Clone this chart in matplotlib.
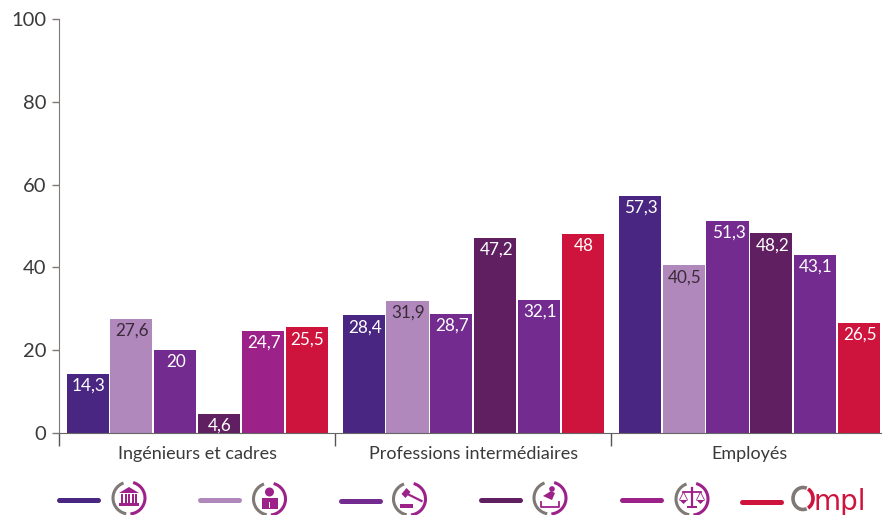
import matplotlib
matplotlib.use("Agg")
import matplotlib.pyplot as plt
from matplotlib.patches import Arc, Circle, Polygon, Rectangle
import numpy as np

plt.rcParams['font.family'] = ['Lato', 'DejaVu Sans']

groups = ["Ingénieurs et cadres", "Professions intermédiaires", "Employés"]
yticks = [0, 20, 40, 60, 80, 100]

# one list per legend entry (icon), in the order of the bars
batiment = [14.3, 28.4, 57.3]
lecteur = [27.6, 31.9, 40.5]
marteau = [20, 28.7, 51.3]
tampon = [4.6, 47.2, 48.2]
balance = [24.7, 32.1, 43.1]
ompl = [25.5, 48, 26.5]
series = [batiment, lecteur, marteau, tampon, balance, ompl]

# series 5 is not the same purple in the first group as in the other two
colors = [
    ["#4A2683"] * 3,
    ["#B088BB"] * 3,
    ["#732B8F"] * 3,
    ["#5F1F61"] * 3,
    ["#9C2188", "#732B8F", "#732B8F"],
    ["#CE133C"] * 3,
]
legend_colors = ["#4A2683", "#B088BB", "#732B8F", "#5F1F61", "#9C2188", "#CE133C"]
text_colors = ["white", "#3a2a3a", "white", "white", "white", "white"]

W, H = 882, 515
GRAY = "#7F7874"
MAG = "#9C2188"

fig = plt.figure(figsize=(W / 100, H / 100), dpi=100)
ax = fig.add_axes([59 / W, 1 - 433 / H, (W - 59) / W, 414 / H])

step = 43.8 / 276
width = 42 / 276
x = np.arange(len(groups))
for i, vals in enumerate(series):
    pos = x + (i - 2.5) * step
    ax.bar(pos, vals, width, color=colors[i], zorder=2)
    for p, v in zip(pos, vals):
        label = str(v).replace(".", ",")
        ax.annotate(label, (p, v), xytext=(0.7, -8.5), textcoords="offset points",
                    ha="center", va="center", color=text_colors[i], fontsize=12.3, zorder=3)

ax.set_xlim(-0.5, (W - 197.5) / 276)
ax.set_ylim(0, 100)
ax.set_yticks(yticks)
ax.set_xticks([-0.5, 0.5, 1.5])
ax.set_xticklabels([])
ax.tick_params(axis="y", length=5, width=1, color=GRAY, labelsize=14.5, labelcolor="#3a3a3a", pad=4)
ax.tick_params(axis="x", length=9.5, width=1, color="#555555")
for g, name in zip(x, groups):
    ax.annotate(name, (g, 0), xytext=(0, -15), textcoords="offset points",
                ha="center", va="center", fontsize=13, color="#3a3a3a", annotation_clip=False)
ax.spines["top"].set_visible(False)
ax.spines["right"].set_visible(False)
ax.spines["left"].set_color(GRAY)
ax.spines["bottom"].set_color("#666666")
ax.patch.set_alpha(0)

# legend strip, in pixels of the figure
leg = fig.add_axes([0, 0, 1, 1], zorder=5)
leg.set_xlim(0, W)
leg.set_ylim(H, 0)
leg.axis("off")
leg.patch.set_alpha(0)


def ring(cx, cy, r=16, lw=2.2):
    leg.add_patch(Arc((cx, cy), 2 * r, 2 * r, theta1=100, theta2=250, color=GRAY, lw=lw))
    leg.add_patch(Arc((cx, cy), 2 * r, 2 * r, theta1=-75, theta2=85, color=MAG, lw=lw))


def icon_bank(cx, cy):
    leg.add_patch(Polygon([(cx - 10, cy - 5), (cx, cy - 11), (cx + 10, cy - 5)], color=MAG, lw=0))
    for dx in [-7, -3.5, 0, 3.5, 7]:
        leg.add_patch(Rectangle((cx + dx - 1, cy - 4), 2, 9, color=MAG, lw=0))
    leg.add_patch(Rectangle((cx - 10, cy + 5), 20, 2.5, color=MAG, lw=0))


def icon_reader(cx, cy):
    leg.add_patch(Circle((cx, cy - 7), 4.5, color=MAG, lw=0))
    leg.add_patch(Rectangle((cx - 8, cy - 1), 16, 11, color=MAG, lw=0))
    leg.add_patch(Rectangle((cx - 0.7, cy + 3), 1.4, 6, color="white", lw=0))


def icon_gavel(cx, cy):
    leg.add_patch(Polygon([(cx - 8, cy - 5), (cx - 3, cy - 11), (cx + 1, cy - 7), (cx - 4, cy - 1)], color=MAG, lw=0))
    leg.plot([cx - 2, cx + 12], [cy - 5, cy + 2], color=MAG, lw=1.6)
    leg.add_patch(Rectangle((cx - 10, cy + 5), 13, 3.5, color=MAG, lw=0))


def icon_stamp(cx, cy):
    leg.add_patch(Circle((cx + 2, cy - 9), 2.8, color=MAG, lw=0))
    leg.add_patch(Polygon([(cx + 1, cy - 7), (cx + 5, cy - 5), (cx + 2, cy + 2), (cx - 7, cy - 2)], color=MAG, lw=0))
    leg.plot([cx - 9, cx - 9, cx + 9, cx + 9], [cy + 4, cy + 9, cy + 9, cy + 4], color=MAG, lw=1.3)


def icon_scale(cx, cy):
    leg.plot([cx, cx], [cy - 11, cy + 8], color=MAG, lw=1.6)
    leg.plot([cx - 9, cx + 9], [cy - 7, cy - 7], color=MAG, lw=1.3)
    leg.add_patch(Rectangle((cx - 5, cy + 7), 10, 2, color=MAG, lw=0))
    for s in [-1, 1]:
        leg.add_patch(Polygon([(cx + s * 12.5, cy + 1), (cx + s * 4.5, cy + 1), (cx + s * 8.5, cy + 5)], color=MAG, lw=0))
        leg.plot([cx + s * 12.5, cx + s * 8.5, cx + s * 4.5], [cy + 1, cy - 7, cy + 1], color=MAG, lw=0.6)


line_starts = [59, 200, 341, 481, 622, 742]
line_y = [500, 500, 501, 499.5, 500, 501.5]
for x0, y0, c in zip(line_starts, line_y, legend_colors):
    leg.plot([x0, x0 + 39], [y0, y0], color=c, lw=3.6, solid_capstyle="round")

icons = [(129, 498, icon_bank), (269.5, 499, icon_reader), (409.5, 499, icon_gavel),
         (550, 498, icon_stamp), (692, 499, icon_scale)]
for cx, cy, draw in icons:
    ring(cx, cy)
    draw(cx, cy)

# Ompl logo
leg.add_patch(Arc((803, 498.5), 20, 22, theta1=70, theta2=290, color=GRAY, lw=2.6))
leg.add_patch(Arc((803, 498.5), 20, 22, theta1=-62, theta2=62, color="#CE133C", lw=2.6))
leg.text(813, 510, "mpl", color="#CE133C", fontsize=20, ha="left", va="baseline", family=["DejaVu Sans"])

fig.savefig("out.png", dpi=100)
